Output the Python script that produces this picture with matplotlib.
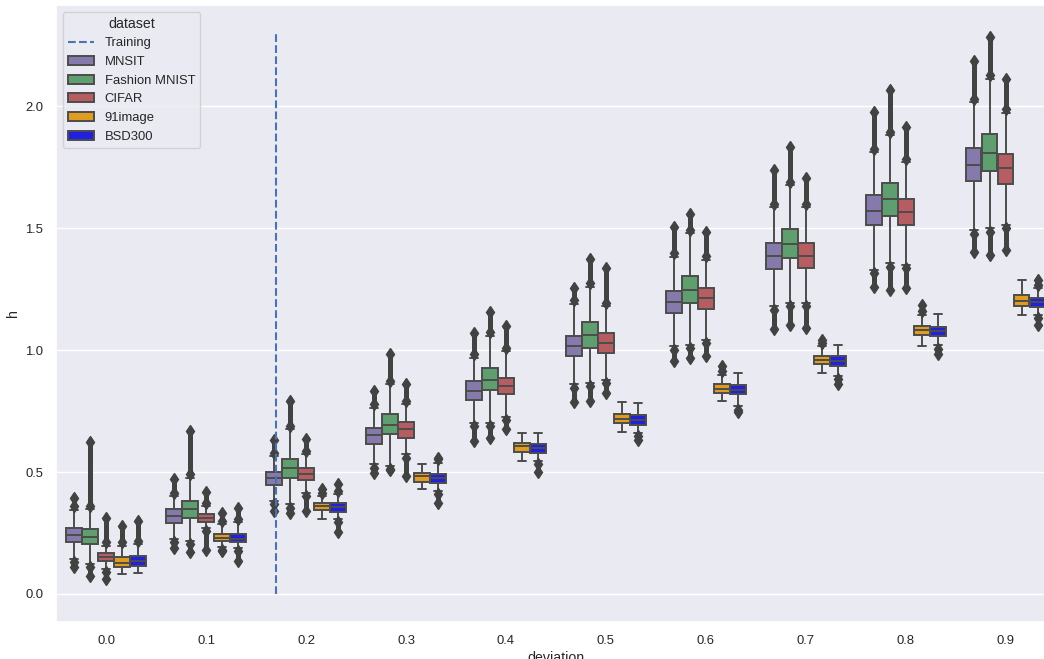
import colorsys
import numpy as np
import matplotlib
matplotlib.use("Agg")
import matplotlib.pyplot as plt
import seaborn as sns
from matplotlib.colors import to_rgb
from matplotlib.patches import Patch
from matplotlib.lines import Line2D

# ---------------- data ----------------
deviations = ["0.0", "0.1", "0.2", "0.3", "0.4", "0.5", "0.6", "0.7", "0.8", "0.9"]
datasets = ["MNSIT", "Fashion MNIST", "CIFAR", "91image", "BSD300"]
nan = np.nan

# MNSIT
mnsit_q1 = [0.211, 0.290, 0.446, 0.616, 0.794, 0.977, 1.152, 1.332, 1.513, 1.693]
mnsit_med = [0.241, 0.318, 0.474, 0.650, 0.831, 1.018, 1.199, 1.386, 1.571, 1.758]
mnsit_q3 = [0.272, 0.347, 0.500, 0.681, 0.872, 1.059, 1.243, 1.438, 1.635, 1.830]
mnsit_wlo = [0.143, 0.225, 0.381, 0.531, 0.702, 0.859, 1.015, 1.179, 1.329, 1.492]
mnsit_whi = [0.345, 0.400, 0.565, 0.763, 0.968, 1.190, 1.383, 1.587, 1.812, 2.017]
mnsit_flo = [0.110, 0.190, 0.340, 0.497, 0.627, 0.789, 0.954, 1.086, 1.260, 1.401]
mnsit_fhi = [0.392, 0.470, 0.630, 0.831, 1.070, 1.255, 1.506, 1.737, 1.976, 2.187]

# Fashion MNIST
fashion_q1 = [0.204, 0.313, 0.477, 0.654, 0.835, 1.009, 1.193, 1.377, 1.550, 1.733]
fashion_med = [0.232, 0.347, 0.515, 0.691, 0.879, 1.063, 1.247, 1.435, 1.619, 1.808]
fashion_q3 = [0.266, 0.381, 0.555, 0.736, 0.927, 1.117, 1.305, 1.496, 1.687, 1.885]
fashion_wlo = [0.123, 0.218, 0.368, 0.525, 0.702, 0.866, 1.022, 1.193, 1.356, 1.499]
fashion_whi = [0.347, 0.477, 0.675, 0.859, 1.059, 1.260, 1.479, 1.676, 1.881, 2.112]
fashion_flo = [0.075, 0.170, 0.334, 0.508, 0.641, 0.790, 0.968, 1.104, 1.247, 1.390]
fashion_fhi = [0.625, 0.670, 0.790, 0.985, 1.155, 1.372, 1.560, 1.833, 2.065, 2.285]

# CIFAR
cifar_q1 = [0.134, 0.293, 0.467, 0.640, 0.818, 0.988, 1.168, 1.338, 1.513, 1.683]
cifar_med = [0.153, 0.313, 0.490, 0.675, 0.852, 1.029, 1.213, 1.386, 1.567, 1.747]
cifar_q3 = [0.166, 0.327, 0.518, 0.705, 0.886, 1.070, 1.254, 1.438, 1.619, 1.806]
cifar_wlo = [0.102, 0.272, 0.416, 0.572, 0.726, 0.879, 1.042, 1.195, 1.349, 1.513]
cifar_whi = [0.198, 0.361, 0.572, 0.777, 0.995, 1.180, 1.370, 1.587, 1.771, 1.973]
cifar_flo = [0.060, 0.180, 0.340, 0.484, 0.675, 0.825, 0.974, 1.090, 1.254, 1.410]
cifar_fhi = [0.310, 0.420, 0.636, 0.859, 1.097, 1.336, 1.485, 1.704, 1.915, 2.110]

# 91image
img91_q1 = [0.112, 0.218, 0.343, 0.461, 0.583, 0.699, 0.825, 0.943, 1.063, 1.179]
img91_med = [0.127, 0.228, 0.361, 0.484, 0.606, 0.718, 0.841, 0.958, 1.083, 1.202]
img91_q3 = [0.150, 0.245, 0.375, 0.497, 0.620, 0.739, 0.859, 0.974, 1.100, 1.224]
img91_wlo = [0.082, 0.192, 0.307, 0.430, 0.545, 0.664, 0.790, 0.906, 1.018, 1.142]
img91_whi = [0.197, 0.286, 0.400, 0.531, 0.661, 0.786, 0.899, 1.015, 1.145, 1.288]
img91_flo = [nan, 0.180, nan, nan, nan, nan, nan, nan, nan, nan]
img91_fhi = [0.280, 0.334, 0.430, nan, nan, nan, 0.933, 1.043, 1.186, nan]

# BSD300
bsd_q1 = [0.113, 0.215, 0.338, 0.457, 0.579, 0.692, 0.818, 0.933, 1.056, 1.175]
bsd_med = [0.134, 0.225, 0.357, 0.477, 0.597, 0.715, 0.835, 0.954, 1.077, 1.197]
bsd_q3 = [0.155, 0.245, 0.371, 0.493, 0.616, 0.733, 0.855, 0.974, 1.094, 1.215]
bsd_wlo = [0.086, 0.190, 0.307, 0.422, 0.545, 0.661, 0.770, 0.895, 1.020, 1.145]
bsd_whi = [0.204, 0.293, 0.409, 0.538, 0.661, 0.781, 0.904, 1.022, 1.148, 1.254]
bsd_flo = [nan, 0.135, 0.255, 0.375, 0.500, 0.630, 0.745, 0.860, 0.985, 1.104]
bsd_fhi = [0.300, 0.354, 0.450, 0.559, nan, nan, nan, nan, nan, 1.288]

training_x = 1.7          # position on the category axis
training_span = [0.0, 2.3]

series = [
    (mnsit_q1, mnsit_med, mnsit_q3, mnsit_wlo, mnsit_whi, mnsit_flo, mnsit_fhi),
    (fashion_q1, fashion_med, fashion_q3, fashion_wlo, fashion_whi, fashion_flo, fashion_fhi),
    (cifar_q1, cifar_med, cifar_q3, cifar_wlo, cifar_whi, cifar_flo, cifar_fhi),
    (img91_q1, img91_med, img91_q3, img91_wlo, img91_whi, img91_flo, img91_fhi),
    (bsd_q1, bsd_med, bsd_q3, bsd_wlo, bsd_whi, bsd_flo, bsd_fhi),
]

# ---------------- style ----------------
sns.set_theme(style="darkgrid")
plt.rcParams["font.family"] = ["Liberation Sans", "DejaVu Sans"]


def desat(c, p=0.75):
    h, l, s = colorsys.rgb_to_hls(*to_rgb(c))
    return colorsys.hls_to_rgb(h, l, s * p)


base_colors = ["#8172b3", "#55a868", "#c44e52", "orange", "blue"]
colors = [desat(c) for c in base_colors]
gray = "#4c4c4c"
fgray = "#424242"
lw = 1.4
fig = plt.figure(figsize=(10.44, 6.59), dpi=100)
ax = fig.add_axes([56.3 / 1044, 37 / 659, 999.3 / 1044, 617 / 659])

n = len(datasets)
group_width = 0.8
each = group_width / n
box_w = each * 0.98
x = np.arange(len(deviations))

for j, (q1, med, q3, wlo, whi, flo, fhi) in enumerate(series):
    offs = (j - (n - 1) / 2) * each
    pos = x + offs
    stats = []
    for i in range(len(deviations)):
        stats.append(dict(med=med[i], q1=q1[i], q3=q3[i],
                          whislo=wlo[i], whishi=whi[i], fliers=[]))
    ax.bxp(stats, positions=pos, widths=box_w, patch_artist=True,
           showfliers=False, manage_ticks=False,
           boxprops=dict(facecolor=colors[j], edgecolor=gray, linewidth=lw),
           medianprops=dict(color=gray, linewidth=lw),
           whiskerprops=dict(color=gray, linewidth=lw),
           capprops=dict(color=gray, linewidth=lw))
    # dense flier streaks
    flo_a = np.array(flo, dtype=float)
    fhi_a = np.array(fhi, dtype=float)
    whi_a = np.array(whi, dtype=float)
    wlo_a = np.array(wlo, dtype=float)
    m = ~np.isnan(fhi_a)
    ax.vlines(pos[m], whi_a[m] + 0.01, fhi_a[m], color=fgray, linewidth=3.6, zorder=3)
    ax.plot(pos[m], fhi_a[m], "d", color=fgray, markersize=6, zorder=3)
    ax.plot(pos[m], whi_a[m] + 0.014, "d", color=fgray, markersize=6, zorder=3)
    m = ~np.isnan(flo_a)
    ax.vlines(pos[m], flo_a[m], wlo_a[m] - 0.01, color=fgray, linewidth=3.6, zorder=3)
    ax.plot(pos[m], flo_a[m], "d", color=fgray, markersize=6, zorder=3)
    ax.plot(pos[m], wlo_a[m] - 0.014, "d", color=fgray, markersize=6, zorder=3)

ax.plot([training_x, training_x], training_span, "--", color="#4c72b0",
        linewidth=1.5, zorder=5)

ax.set_xlim(-0.5, len(deviations) - 0.5)
ax.set_ylim(-0.115, 2.415)
ax.set_xticks(x)
ax.set_xticklabels(deviations)
ax.set_yticks([0.0, 0.5, 1.0, 1.5, 2.0])
ax.xaxis.grid(False)
ax.tick_params(labelsize=9.4, colors="#262626")
ax.set_xlabel("deviation", fontsize=10.2, color="#262626", labelpad=3)
ax.set_ylabel("h", fontsize=10.2, color="#262626")

handles = [Line2D([0], [0], color="#4c72b0", linestyle="--", linewidth=1.5)]
handles += [Patch(facecolor=c, edgecolor=gray, linewidth=lw) for c in colors]
leg = ax.legend(handles, ["Training"] + datasets, title="dataset",
                loc="upper left", fontsize=9.4, title_fontsize=10.2)

fig.savefig("out.png", dpi=100)
